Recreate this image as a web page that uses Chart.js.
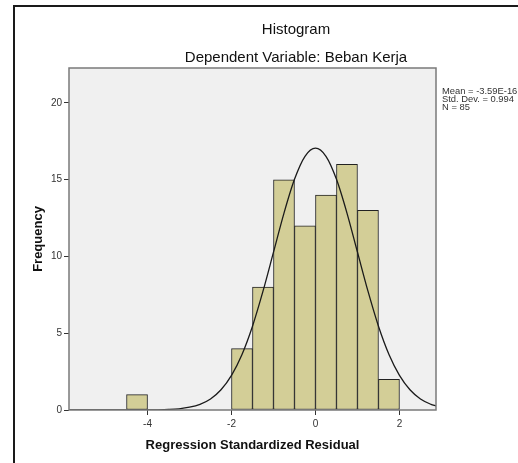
<!DOCTYPE html>
<html>
<head>
<meta charset="utf-8">
<script src="https://cdn.jsdelivr.net/npm/chart.js@4/dist/chart.umd.min.js"></script>
<style>
  html, body { margin: 0; padding: 0; background: #ffffff; }
  canvas { display: block; }
</style>
</head>
<body>
<canvas id="histChart" width="518" height="463"></canvas>
<script>
// Histogram bins (lower edge of each 0.5-wide bin) and counts
const binStarts = [-4.5, -2, -1.5, -1, -0.5, 0, 0.5, 1, 1.5];
const binCounts = [1, 4, 8, 15, 12, 14, 16, 13, 2];
const binWidth = 0.5;

// Normal curve
const curveX = [-5.87, -5, -4.5, -4, -3.75, -3.5, -3.25, -3, -2.75, -2.5, -2.25, -2, -1.75, -1.5, -1.25, -1, -0.75, -0.5, -0.25, 0, 0.25, 0.5, 0.75, 1, 1.25, 1.5, 1.75, 2, 2.25, 2.5, 2.75, 2.87];
const curveY = [0, 0, 0.001, 0.005, 0.014, 0.035, 0.08, 0.18, 0.37, 0.72, 1.32, 2.26, 3.62, 5.46, 7.74, 10.28, 12.83, 15.03, 16.53, 17.06, 16.53, 15.03, 12.83, 10.28, 7.74, 5.46, 3.62, 2.26, 1.32, 0.72, 0.37, 0.26];

// Axis ticks
const xTicks = [-4, -2, 0, 2];
const yTicks = [0, 5, 10, 15, 20];

const titleText = "Histogram";
const subtitleText = "Dependent Variable: Beban Kerja";
const statsLines = ["Mean = -3.59E-16", "Std. Dev. = 0.994", "N = 85"];

const FONT = "'Liberation Sans', Arial, sans-serif";

// plot background, plot box, outer frame, titles and stats text
const spssFrame = {
  id: "spssFrame",
  beforeDatasetsDraw(chart) {
    const { ctx, chartArea: a } = chart;
    ctx.save();
    ctx.fillStyle = "#f0f0f0";
    ctx.fillRect(a.left, a.top, a.right - a.left, a.bottom - a.top);
    ctx.restore();
  },
  afterDraw(chart) {
    const { ctx, chartArea: a } = chart;
    ctx.save();
    ctx.strokeStyle = "#7a7a7a";
    ctx.lineWidth = 1.5;
    ctx.strokeRect(a.left, a.top, a.right - a.left, a.bottom - a.top);

    ctx.strokeStyle = "#1a1a1a";
    ctx.lineWidth = 2;
    ctx.beginPath();
    ctx.moveTo(14, 470);
    ctx.lineTo(14, 6);
    ctx.lineTo(530, 6);
    ctx.stroke();

    // titles sit centred over the whole chart panel, a bit right of the plot
    ctx.fillStyle = "#111111";
    ctx.font = "15px " + FONT;
    ctx.textAlign = "center";
    ctx.textBaseline = "middle";
    ctx.fillText(titleText, 296, 30);
    ctx.fillText(subtitleText, 296, 58);

    ctx.fillStyle = "#333333";
    ctx.font = "9.4px " + FONT;
    ctx.textAlign = "left";
    statsLines.forEach((s, i) => ctx.fillText(s, a.right + 6, 91 + i * 8.3));
    ctx.restore();
  },
};

const ctx = document.getElementById("histChart");
new Chart(ctx, {
  data: {
    datasets: [
      {
        type: "line",
        order: 0,
        data: curveX.map((x, i) => ({ x: x, y: curveY[i] })),
        borderColor: "#1a1a1a",
        borderWidth: 1.3,
        pointRadius: 0,
        cubicInterpolationMode: "monotone",
        fill: false,
      },
      {
        type: "bar",
        order: 1,
        data: binStarts.map((s, i) => ({ x: s + binWidth / 2, y: binCounts[i] })),
        backgroundColor: "#d3ce97",
        borderColor: "#222222",
        borderWidth: 1,
        borderSkipped: false,
        barPercentage: 1,
        categoryPercentage: 1,
      },
    ],
  },
  options: {
    responsive: false,
    animation: false,
    layout: {
      padding: { left: 0, right: 82, top: 68, bottom: 0 },
    },
    plugins: {
      legend: { display: false },
      tooltip: { enabled: false },
    },
    scales: {
      x: {
        type: "linear",
        offset: false,
        min: -5.87,
        max: 2.87,
        afterBuildTicks: (scale) => {
          scale.ticks = xTicks.map((v) => ({ value: v }));
        },
        afterFit: (scale) => {
          scale.height = 53;
        },
        grid: {
          offset: false,
          drawOnChartArea: false,
          drawTicks: true,
          tickLength: 5,
          color: "#333333",
        },
        border: { display: false },
        ticks: {
          color: "#333333",
          font: { family: FONT, size: 10 },
          padding: 3,
          maxRotation: 0,
        },
        title: {
          display: true,
          text: "Regression Standardized Residual",
          color: "#111111",
          font: { family: FONT, size: 13, weight: "bold" },
          padding: { top: 0, bottom: 10 },
        },
      },
      y: {
        type: "linear",
        min: 0,
        max: 22.28,
        afterBuildTicks: (scale) => {
          scale.ticks = yTicks.map((v) => ({ value: v }));
        },
        afterFit: (scale) => {
          scale.width = 69;
        },
        grid: {
          drawOnChartArea: false,
          drawTicks: true,
          tickLength: 5,
          color: "#333333",
        },
        border: { display: false },
        ticks: {
          color: "#333333",
          font: { family: FONT, size: 10 },
          padding: 2,
        },
        title: {
          display: true,
          text: "Frequency",
          color: "#111111",
          font: { family: FONT, size: 13, weight: "bold" },
          padding: { top: 31, bottom: 0 },
        },
      },
    },
  },
  plugins: [spssFrame],
});
</script>
</body>
</html>
